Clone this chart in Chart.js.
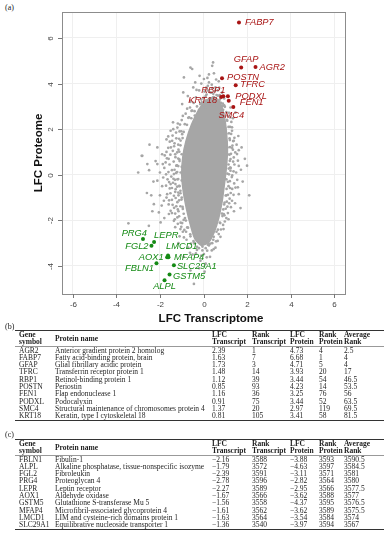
<!DOCTYPE html>
<html>
<head>
<meta charset="utf-8">
<script src="https://cdn.jsdelivr.net/npm/chart.js@4.4.1/dist/chart.umd.min.js"></script>
<style>
  body { margin: 0; width: 387px; height: 550px; background: #fff; position: relative; overflow: hidden; }
  #plotWrap { position: absolute; left: 0; top: 0; width: 387px; height: 326px; }
  .panel { position: absolute; left: 5px; font-family: "Liberation Serif", serif; font-size: 8px; color: #222; }
  table.tbl { position: absolute; left: 15px; width: 369px; border-collapse: collapse; table-layout: fixed;
    font-family: "Liberation Serif", serif; font-size: 7.5px; color: #1e1e1e;
    border-top: 1px solid #333; border-bottom: 1px solid #333; }
  table.tbl th { font-weight: bold; text-align: left; padding: 0 0 0 4px; line-height: 7.3px;
    vertical-align: middle; border-bottom: 1px solid #999; }
  table.tbl td { padding: 0 0 0 4px; line-height: 7.3px; height: 7.3px; white-space: nowrap; overflow: visible; }
</style>
</head>
<body>
<div class="panel" style="top:3px">(a)</div>
<div id="plotWrap"><canvas id="scatter" width="387" height="326"></canvas></div>
<div class="panel" style="top:322px">(b)</div>
<table class="tbl" id="tblUp" style="top:330px"></table>
<div class="panel" style="top:430px">(c)</div>
<table class="tbl" id="tblDown" style="top:439px"></table>

<script>
// ---- data ----
const xTicks = [-6, -4, -2, 0, 2, 4, 6];
const yTicks = [-4, -2, 0, 2, 4, 6];

const upGenes = ["AGR2", "FABP7", "GFAP", "TFRC", "RBP1", "POSTN", "FEN1", "PODXL", "SMC4", "KRT18"];
const upNames = [
  "Anterior gradient protein 2 homolog",
  "Fatty acid-binding protein, brain",
  "Glial fibrillary acidic protein",
  "Transferrin receptor protein 1",
  "Retinol-binding protein 1",
  "Periostin",
  "Flap endonuclease 1",
  "Podocalyxin",
  "Structural maintenance of chromosomes protein 4",
  "Keratin, type I cytoskeletal 18",
];
const upLfcT = [2.39, 1.63, 1.73, 1.48, 1.12, 0.85, 1.16, 0.91, 1.37, 0.81];
const upRankT = [1, 7, 3, 14, 39, 93, 36, 75, 20, 105];
const upLfcP = [4.73, 6.68, 4.71, 3.93, 3.44, 4.23, 3.25, 3.44, 2.97, 3.41];
const upRankP = [4, 1, 5, 20, 54, 14, 76, 52, 119, 58];
const upAvg = [2.5, 4, 4, 17, 46.5, 53.5, 56, 63.5, 69.5, 81.5];

const downGenes = ["FBLN1", "ALPL", "FGL2", "PRG4", "LEPR", "AOX1", "GSTM5", "MFAP4", "LMCD1", "SLC29A1"];
const downNames = [
  "Fibulin-1",
  "Alkaline phosphatase, tissue-nonspecific isozyme",
  "Fibroleukin",
  "Proteoglycan 4",
  "Leptin receptor",
  "Aldehyde oxidase",
  "Glutathione S-transferase Mu 5",
  "Microfibril-associated glycoprotein 4",
  "LIM and cysteine-rich domains protein 1",
  "Equilibrative nucleoside transporter 1",
];
const downLfcT = [-2.16, -1.79, -2.39, -2.78, -2.27, -1.67, -1.56, -1.61, -1.63, -1.36];
const downRankT = [3588, 3572, 3591, 3596, 3589, 3566, 3558, 3562, 3564, 3540];
const downLfcP = [-3.88, -4.63, -3.11, -2.82, -2.95, -3.62, -4.37, -3.62, -3.54, -3.97];
const downRankP = [3593, 3597, 3571, 3564, 3566, 3588, 3595, 3589, 3584, 3594];
const downAvg = [3590.5, 3584.5, 3581, 3580, 3577.5, 3577, 3576.5, 3575.5, 3574, 3567];

// outline of the dense core of the gene cloud (LFC transcript, LFC protein)
const coreX = [0.45, 0.75, 0.95, 1.05, 1.1, 1.05, 0.95, 0.85, 0.7, 0.5, 0.25, -0.1, -0.4, -0.6, -0.78, -0.92, -1.0, -0.95, -0.8, -0.55, -0.25, 0.1];
const coreY = [3.45, 3.2, 2.6, 1.9, 1.1, 0.3, -0.5, -1.2, -1.9, -2.5, -2.95, -3.1, -2.8, -2.2, -1.5, -0.8, 0.0, 0.8, 1.5, 2.2, 2.8, 3.3];

// scattered genes around the core
const cloudTop = [
  [-0.52, 4.64], [-0.9, 4.27], [-0.93, 3.61], [-0.18, 4.34], [0.44, 4.93], [0.4, 4.78], [-0.6, 4.7], [0.02, 4.2],
  [0.55, 3.83], [-0.47, 3.83], [-0.98, 3.1], [1.24, 2.95], [1.47, 2.73], [1.09, 2.37], [0.2, 3.9], [0.35, 3.6],
  [0.1, 3.45], [0.6, 3.5], [0.75, 3.3], [0.5, 3.25], [-0.1, 3.3], [-0.3, 3.0], [0.95, 3.05], [1.05, 2.75],
  [0.25, 4.4], [0.7, 4.1], [-0.2, 3.7], [0.45, 3.4], [0.85, 3.6], [-0.55, 2.8], [-0.7, 2.5], [-0.4, 2.6],
  [0.0, 3.05], [-0.2, 2.85], [0.15, 3.25], [0.3, 3.35], [0.55, 3.1], [0.8, 3.15], [0.65, 3.7], [0.4, 3.8],
  [0.05, 3.65], [-0.1, 4.0], [0.25, 4.05], [-0.35, 3.4], [-0.6, 3.2], [-0.75, 2.9], [0.9, 2.6], [1.1, 2.6],
  [-1.0, 2.4], [0.3, 3.1], [0.6, 2.95], [0.1, 2.95], [0.9, 2.85], [-0.15, 3.1], [0.45, 3.55], [0.2, 3.7], [0.75, 3.5],
  [0.3, 3.62], [0.52, 3.68], [0.66, 3.47], [0.14, 3.52], [0.0, 3.37], [0.82, 3.41], [-0.08, 3.18], [0.88, 3.02],
  [0.12, 3.82], [0.38, 3.95], [0.58, 4.18], [-0.32, 3.72], [0.72, 3.82], [0.95, 3.35], [0.18, 4.25], [-0.38, 4.05],
  [0.48, 4.45], [-0.72, 3.45], [-0.45, 3.15], [-0.62, 2.95],
];
const cloudLeft = [
  [-1.2, 2.07], [-1.39, 2.0], [-2.48, 1.32], [-2.84, 0.83], [-1.44, 1.49], [-0.98, 1.78], [-1.51, 1.93], [-2.12, 1.2],
  [-1.05, 1.5], [-1.15, 1.1], [-1.3, 0.9], [-1.1, 0.6], [-1.25, 0.4], [-1.45, 0.2], [-1.05, 0.1], [-1.2, -0.2],
  [-1.4, -0.35], [-1.1, -0.5], [-1.3, -0.75], [-1.55, -0.6], [-1.0, -1.0], [-1.2, -1.2], [-1.45, -1.1], [-1.7, -1.0],
  [-0.95, -1.5], [-1.15, -1.6], [-1.35, -1.45], [-0.85, -1.9], [-1.05, -2.1], [-0.95, -2.5], [-1.6, 0.7], [-1.8, 0.3],
  [-1.65, -0.2], [-1.9, -0.5], [-2.0, 0.1], [-1.5, 1.2], [-1.7, 1.55], [-1.9, 0.9], [-2.2, 0.6], [-2.3, -0.3],
  [-2.5, 0.2], [-2.0, -0.9], [-2.35, -1.6], [-1.8, -1.9], [-2.6, -0.8], [-3.0, 0.1], [-3.45, -2.13], [-2.51, -2.24],
  [-1.36, -2.02], [-1.06, -2.38], [-1.59, -1.72], [-1.82, -1.14], [-1.28, -0.63], [-2.58, 0.47], [-2.81, 0.83], [-1.87, 0.47],
  [-2.12, -0.26], [-1.67, -0.85], [-2.28, -1.29], [-2.05, -1.65], [-2.12, 0.47], [-1.74, 0.54], [-1.36, 0.03], [-1.51, -0.41],
  [-1.06, -0.7], [-1.51, -1.58], [-1.2, -1.87], [-1.97, -2.09], [-1.1, 1.9], [-1.25, 1.6], [-1.0, 0.9], [-1.0, 0.35],
  [-1.0, -0.25], [-1.15, -0.9], [-1.35, 1.25], [-1.6, -1.3], [-1.3, -1.7], [-1.4, 2.3], [-1.7, 1.0], [-2.4, -0.9],
  [-1.1, -2.7], [-1.3, -2.3],
  [-1.42, 1.72], [-1.55, 1.45], [-1.33, 1.38], [-1.62, 1.18], [-1.41, 1.05], [-1.29, 0.77], [-1.52, 0.88], [-1.68, 0.72],
  [-1.37, 0.58], [-1.56, 0.45], [-1.33, 0.22], [-1.61, 0.12], [-1.48, -0.08], [-1.72, 0.02], [-1.38, -0.18], [-1.58, -0.32],
  [-1.29, -0.41], [-1.45, -0.58], [-1.72, -0.48], [-1.36, -0.92], [-1.52, -0.81], [-1.28, -1.02], [-1.58, -1.12], [-1.25, -1.38],
  [-1.42, -1.32], [-1.18, -1.52], [-1.45, -1.68], [-1.12, -1.82], [-1.32, -1.95], [-1.02, -2.28], [-1.18, -2.15], [-0.88, -2.42],
  [-0.98, -2.12], [-1.85, -0.12], [-1.78, 0.85], [-1.92, -1.35], [-1.62, 1.68], [-1.26, 1.85], [-1.18, 2.25], [-0.95, 2.58],
  [-0.82, 2.68], [-1.08, 2.2],
];
const cloudRight = [
  [1.31, 1.93], [1.39, 1.49], [1.54, 0.91], [1.24, 0.69], [1.7, -1.46], [1.31, -1.14], [1.62, -0.85], [1.47, -0.56],
  [1.24, 0.18], [1.62, 0.39], [1.39, 0.76], [0.93, -1.72], [1.15, 2.1], [1.2, 1.6], [1.1, 1.2], [1.25, 0.3],
  [1.3, -0.1], [1.15, -0.5], [1.05, -0.9], [0.95, -1.3], [1.1, 0.9], [1.15, 0.45], [1.05, -0.2], [1.35, 1.1],
  [1.5, 0.1], [1.05, 1.8], [1.8, -0.3], [1.25, -0.8], [1.1, -1.4], [1.4, -1.6], [1.05, -1.9], [1.9, 0.7],
  [2.1, -0.9], [1.75, 1.2], [2.0, 0.4], [1.05, 1.45], [1.1, 0.05], [1.2, -1.05], [0.95, 2.3], [1.0, 2.05],
  [1.6, 1.7], [1.45, -1.25],
  [1.42, 1.62], [1.52, 1.32], [1.33, 1.28], [1.46, 0.98], [1.58, 0.62], [1.42, 0.45], [1.38, 0.15], [1.55, -0.22],
  [1.41, -0.38], [1.32, -0.62], [1.38, -0.88], [1.18, -1.25], [1.26, -1.42], [1.12, -1.68], [1.15, -1.95], [0.98, -2.05],
  [0.92, -2.38], [0.78, -2.72], [0.58, -2.92], [1.28, 2.32], [1.22, 2.52], [1.35, 2.48], [1.62, 1.08], [1.72, 0.22],
  [1.58, -0.55],
];
const cloudBottom = [
  [0.85, -1.7], [0.75, -2.1], [0.6, -2.5], [0.45, -2.85], [0.25, -3.1], [-0.05, -3.15], [-0.4, -3.0], [-0.6, -2.7],
  [0.7, -2.6], [0.47, -3.26], [0.24, -3.04], [0.02, -3.48], [-0.14, -3.77], [0.17, -3.33], [-0.44, -4.79], [0.9, -2.2],
  [0.65, -2.9], [0.4, -3.0], [0.8, -2.4], [-0.9, -2.75], [-0.44, -2.97], [-0.75, -2.31], [-0.3, -3.3], [0.1, -3.9],
  [-0.5, -3.5], [0.3, -3.6], [-0.2, -4.1], [-0.7, -3.2], [-0.9, -3.6], [-1.15, -3.0], [-0.6, -4.2], [0.55, -3.2],
  [-0.1, -3.55], [0.2, -2.95], [-0.8, -2.5], [-0.25, -2.9], [0.35, -2.7], [0.05, -2.95],
  [0.1, -3.22], [-0.3, -3.16], [0.2, -3.07], [-0.58, -3.02], [-0.35, -3.45], [0.15, -3.62], [-0.05, -3.32], [0.38, -3.32],
  [-0.78, -2.85], [-0.62, -3.42], [0.05, -4.25],
];
// genes hugging the edge of the core
const cloudEdge = [
  [1.17, 2.72], [1.08, 2.41], [1.22, 2.1], [1.31, 2.08], [1.17, 1.82], [1.27, 1.79], [1.21, 1.52], [1.36, 1.48],
  [1.22, 1.21], [1.31, 1.18], [1.26, 0.92], [1.19, 0.88], [1.21, 0.61], [1.36, 0.58], [1.22, 0.31], [1.16, 0.27],
  [1.17, 0.02], [1.32, -0.03], [1.12, -0.31], [1.21, -0.28], [1.06, -0.62], [1.22, -0.58], [1.02, -0.91], [1.12, -0.88],
  [0.97, -1.22], [1.07, -1.18], [0.91, -1.52], [1.02, -1.49], [0.87, -1.81], [0.96, -1.78], [0.77, -2.12], [0.66, -2.41],
  [0.47, -2.72], [0.31, -3.02], [0.98, 2.98], [0.89, 3.12],
  [-0.12, 3.12], [-0.41, 2.79], [-0.52, 2.82], [-0.56, 2.48], [-0.66, 2.52], [-0.76, 2.19], [-0.86, 2.22], [-0.91, 1.88],
  [-1.02, 1.91], [-0.96, 1.61], [-1.12, 1.58], [-1.06, 1.29], [-1.16, 1.32], [-1.11, 1.01], [-1.21, 0.98], [-1.16, 0.71],
  [-1.11, 0.68], [-1.22, 0.41], [-1.16, 0.38], [-1.21, 0.12], [-1.26, 0.08], [-1.16, -0.19], [-1.31, -0.22], [-1.12, -0.49],
  [-1.21, -0.52], [-1.06, -0.81], [-1.16, -0.78], [-1.01, -1.09], [-1.12, -1.12], [-0.96, -1.41], [-1.06, -1.38], [-0.91, -1.71],
  [-0.81, -2.01], [-0.91, -1.98], [-0.71, -2.32], [-0.61, -2.61], [-0.46, -2.91], [-0.21, -3.22],
];

// ---- styling ----
const red = "#a81414";
const green = "#148a14";
const grey = "#a6a6a6";
const labelFont = "italic 9.3px 'Liberation Sans', Arial, sans-serif";

// label placement: gene -> [dx, dy, align] in pixels from its point
const labelPos = {
  AGR2: [4, 0, "left"], FABP7: [6, 0, "left"], GFAP: [5, -8.4, "center"], TFRC: [4.5, -0.5, "left"],
  RBP1: [-2.4, -5.6, "right"], POSTN: [5, -1, "left"], FEN1: [11, 2, "left"], PODXL: [12, 0, "left"],
  SMC4: [-2, 8, "center"], KRT18: [-4, 3.7, "right"],
  FBLN1: [-2.5, 4.8, "right"], ALPL: [0, 6.5, "center"], FGL2: [-3, 0.5, "right"], PRG4: [4, -6, "right"],
  LEPR: [0, -6.5, "left"], AOX1: [-3.5, 0, "right"], GSTM5: [3.5, 2.5, "left"], MFAP4: [5.5, 0, "left"],
  LMCD1: [-2, -9, "left"], SLC29A1: [3, 1.5, "left"],
};

function fmt(v) {
  return v.toFixed(2).replace("-", "\u2212");
}

function buildTable(id, genes, names, lfcT, rankT, lfcP, rankP, avg) {
  const widths = [36, 157, 40, 38, 29, 25, 44];
  let html = "<colgroup>" + widths.map((w) => '<col style="width:' + w + 'px">').join("") + "</colgroup>";
  html += "<tr><th>Gene<br>symbol</th><th>Protein name</th><th>LFC<br>Transcript</th><th>Rank<br>Transcript</th>" +
    "<th>LFC<br>Protein</th><th>Rank<br>Protein</th><th>Average<br>Rank</th></tr>";
  for (let i = 0; i < genes.length; i++) {
    html += "<tr><td>" + genes[i] + "</td><td>" + names[i] + "</td><td>" + fmt(lfcT[i]) + "</td><td>" + rankT[i] +
      "</td><td>" + fmt(lfcP[i]) + "</td><td>" + rankP[i] + "</td><td>" + avg[i] + "</td></tr>";
  }
  document.getElementById(id).innerHTML = html;
}

buildTable("tblUp", upGenes, upNames, upLfcT, upRankT, upLfcP, upRankP, upAvg);
buildTable("tblDown", downGenes, downNames, downLfcT, downRankT, downLfcP, downRankP, downAvg);

const toXY = (pairs) => pairs.map((p) => ({ x: p[0], y: p[1] }));

const axesPlugin = {
  id: "axesPlugin",
  afterDatasetsDraw(chart) {
    const { ctx, chartArea: a, scales } = chart;
    ctx.save();
    ctx.strokeStyle = "#8c8c8c";
    ctx.lineWidth = 1;
    ctx.strokeRect(a.left + 0.5, a.top + 0.5, a.right - a.left, a.bottom - a.top);

    // tick marks + labels
    ctx.strokeStyle = "#777";
    ctx.fillStyle = "#444";
    ctx.font = "8px 'Liberation Sans', Arial, sans-serif";
    ctx.textAlign = "center";
    ctx.textBaseline = "middle";
    xTicks.forEach((v) => {
      const px = Math.round(scales.x.getPixelForValue(v)) + 0.5;
      ctx.beginPath();
      ctx.moveTo(px, a.bottom);
      ctx.lineTo(px, a.bottom + 4);
      ctx.stroke();
      ctx.fillText(v, px, 305);
    });
    yTicks.forEach((v) => {
      const py = Math.round(scales.y.getPixelForValue(v)) + 0.5;
      ctx.beginPath();
      ctx.moveTo(a.left - 4, py);
      ctx.lineTo(a.left, py);
      ctx.stroke();
      ctx.save();
      ctx.translate(51, py);
      ctx.rotate(-Math.PI / 2);
      ctx.fillText(v, 0, 0);
      ctx.restore();
    });

    // axis titles
    ctx.fillStyle = "#111";
    ctx.font = "bold 11.5px 'Liberation Sans', Arial, sans-serif";
    ctx.fillText("LFC Transcriptome", 211, 319);
    ctx.save();
    ctx.translate(39, 153);
    ctx.rotate(-Math.PI / 2);
    ctx.fillText("LFC Proteome", 0, 0);
    ctx.restore();
    ctx.restore();
  },
};

const labelPlugin = {
  id: "labelPlugin",
  afterDatasetsDraw(chart) {
    const ctx = chart.ctx;
    ctx.save();
    ctx.font = labelFont;
    ctx.textBaseline = "middle";
    chart.data.datasets.forEach((ds, di) => {
      if (!ds.genes) return;
      const meta = chart.getDatasetMeta(di);
      ctx.fillStyle = ds.backgroundColor;
      meta.data.forEach((pt, i) => {
        const lp = labelPos[ds.genes[i]];
        ctx.textAlign = lp[2];
        ctx.fillText(ds.genes[i], pt.x + lp[0], pt.y + lp[1]);
      });
    });
    ctx.restore();
  },
};

const cloudStyle = { pointRadius: 1.35, pointBackgroundColor: grey, pointBorderWidth: 0, backgroundColor: grey };

new Chart(document.getElementById("scatter").getContext("2d"), {
  type: "scatter",
  data: {
    datasets: [
      {
        genes: upGenes,
        data: upLfcT.map((x, i) => ({ x: x, y: upLfcP[i] })),
        backgroundColor: red, pointBackgroundColor: red, pointBorderWidth: 0, pointRadius: 2,
      },
      {
        genes: downGenes,
        data: downLfcT.map((x, i) => ({ x: x, y: downLfcP[i] })),
        backgroundColor: green, pointBackgroundColor: green, pointBorderWidth: 0, pointRadius: 2,
      },
      Object.assign({ data: toXY(cloudTop) }, cloudStyle),
      Object.assign({ data: toXY(cloudLeft) }, cloudStyle),
      Object.assign({ data: toXY(cloudRight) }, cloudStyle),
      Object.assign({ data: toXY(cloudBottom) }, cloudStyle),
      Object.assign({ data: toXY(cloudEdge) }, cloudStyle),
      {
        type: "line",
        data: coreX.map((x, i) => ({ x: x, y: coreY[i] })),
        fill: "shape",
        backgroundColor: grey,
        borderColor: grey,
        borderWidth: 1.5,
        pointRadius: 0,
        tension: 0.25,
      },
    ],
  },
  options: {
    responsive: false,
    animation: false,
    events: [],
    layout: { padding: { left: 62, top: 12, right: 42, bottom: 32 } },
    plugins: { legend: { display: false }, tooltip: { enabled: false } },
    scales: {
      x: {
        type: "linear", min: -6.5, max: 6.5,
        afterBuildTicks: (axis) => { axis.ticks = xTicks.map((v) => ({ value: v })); },
        ticks: { display: false },
        grid: { color: "#efefef", drawTicks: false },
        border: { display: false },
      },
      y: {
        type: "linear", min: -5.23, max: 7.14,
        afterBuildTicks: (axis) => { axis.ticks = yTicks.map((v) => ({ value: v })); },
        ticks: { display: false },
        grid: { color: "#efefef", drawTicks: false },
        border: { display: false },
      },
    },
  },
  plugins: [axesPlugin, labelPlugin],
});
</script>
</body>
</html>
